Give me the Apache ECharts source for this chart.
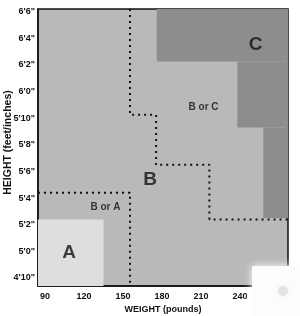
<!DOCTYPE html>
<html><head><meta charset="utf-8">
<script src="https://cdn.jsdelivr.net/npm/echarts@6/dist/echarts.min.js"></script>
<style>html,body{margin:0;padding:0;background:#fff}#c{width:300px;height:316px}</style>
</head><body><div id="c"></div>
<script>
// tick values
const xTicks = [90, 120, 150, 180, 210, 240];
const yTicks = [58, 60, 62, 64, 66, 68, 70, 72, 74, 76, 78]; // inches
// zone rectangles [x1, y1, x2, y2] in pounds / inches
const zoneA = [[84.6, 57.4, 135, 62.4]];
const zoneC = [[176, 74.25, 277, 78.2], [238, 69.3, 277, 74.25], [258, 62.5, 277, 69.3]];
// dotted boundaries
const lineBC = [[155.4, 78.2], [155.4, 70.25], [175.5, 70.25], [175.5, 66.5], [216.5, 66.5], [216.5, 62.4], [277, 62.4]];
const lineAB = [[84.6, 64.4], [155.4, 64.4], [155.4, 57.4]];
// zone labels
const labelsBig = [[108.5, 59.9, 'A'], [170.8, 65.4, 'B'], [252, 75.5, 'C']];
const labelsSmall = [[136.5, 63.3, 'B or A'], [212, 70.8, 'B or C']];

function fmtH(v){ const f = Math.floor(v/12), i = Math.round(v - f*12); return f + "'" + i + '"'; }

const chart = echarts.init(document.getElementById('c'));
const font = 'Liberation Sans, Arial, sans-serif';
chart.setOption({
  animation: false,
  grid: {left: 38, top: 9, right: 12, bottom: 30, containLabel: false, outerBoundsMode: 'none', show: true, backgroundColor: '#b9b9b9', borderColor: '#111', borderWidth: 1.5},
  xAxis: {type: 'value', min: 84.6, max: 277,
    name: 'WEIGHT (pounds)', nameLocation: 'middle', nameGap: 19, nameMoveOverlap: false,
    nameTextStyle: {fontFamily: font, fontWeight: 'bold', fontSize: 9, color: '#111'},
    axisLine: {show: true, lineStyle: {color: '#111', width: 1.5}}, axisTick: {show: false}, splitLine: {show: false},
    axisLabel: {customValues: xTicks, fontFamily: font, fontWeight: 'bold', fontSize: 9, color: '#111', margin: 6}},
  yAxis: {type: 'value', min: 57.4, max: 78.2,
    name: 'HEIGHT (feet/inches)', nameLocation: 'middle', nameGap: 24, nameRotate: 90, nameMoveOverlap: false,
    nameTextStyle: {fontFamily: font, fontWeight: 'bold', fontSize: 10.5, color: '#111', padding: [0, 0, 0, 10]},
    axisLine: {show: true, lineStyle: {color: '#111', width: 1.5}}, axisTick: {show: false}, splitLine: {show: false},
    axisLabel: {customValues: yTicks, formatter: fmtH, fontFamily: font, fontWeight: 'bold', fontSize: 9, color: '#111', margin: 3}},
  series: [
    {type: 'custom', silent: true, z: 1,
      data: zoneA.map(r => r.concat(['A'])).concat(zoneC.map(r => r.concat(['C']))),
      encode: {x: [0, 2], y: [1, 3]},
      renderItem: function(params, api){
        const p1 = api.coord([api.value(0), api.value(1)]);
        const p2 = api.coord([api.value(2), api.value(3)]);
        const isA = api.value(4) === 'A';
        return {type: 'rect', shape: {x: Math.min(p1[0], p2[0]), y: Math.min(p1[1], p2[1]), width: Math.abs(p2[0]-p1[0]), height: Math.abs(p2[1]-p1[1])},
          style: {fill: isA ? '#dedede' : '#8d8d8d'}};
      }},
    {type: 'line', data: lineBC, symbol: 'none', z: 3, lineStyle: {color: '#111', width: 2, type: [2, 4]}},
    {type: 'line', data: lineAB, symbol: 'none', z: 3, lineStyle: {color: '#111', width: 2, type: [2, 4]}},
    {type: 'scatter', data: labelsBig, symbolSize: 0, z: 4,
      label: {show: true, position: 'inside', formatter: p => p.data[2], fontFamily: font, fontWeight: 'bold', fontSize: 19, color: '#111'}},
    {type: 'scatter', data: labelsSmall, symbolSize: 0, z: 4,
      label: {show: true, position: 'inside', formatter: p => p.data[2], fontFamily: font, fontWeight: 'bold', fontSize: 10, color: '#111'}}
  ],
  graphic: [
    {type: 'rect', shape: {x: 252, y: 266, width: 48, height: 50}, style: {fill: '#fdfdfd', shadowBlur: 8, shadowColor: '#ffffff'}, z: 100},
    {type: 'circle', shape: {cx: 283, cy: 291, r: 5}, style: {fill: 'rgba(190,190,190,0.35)', shadowBlur: 10, shadowColor: 'rgba(170,170,170,0.6)'}, z: 101}
  ]
});
</script></body></html>
